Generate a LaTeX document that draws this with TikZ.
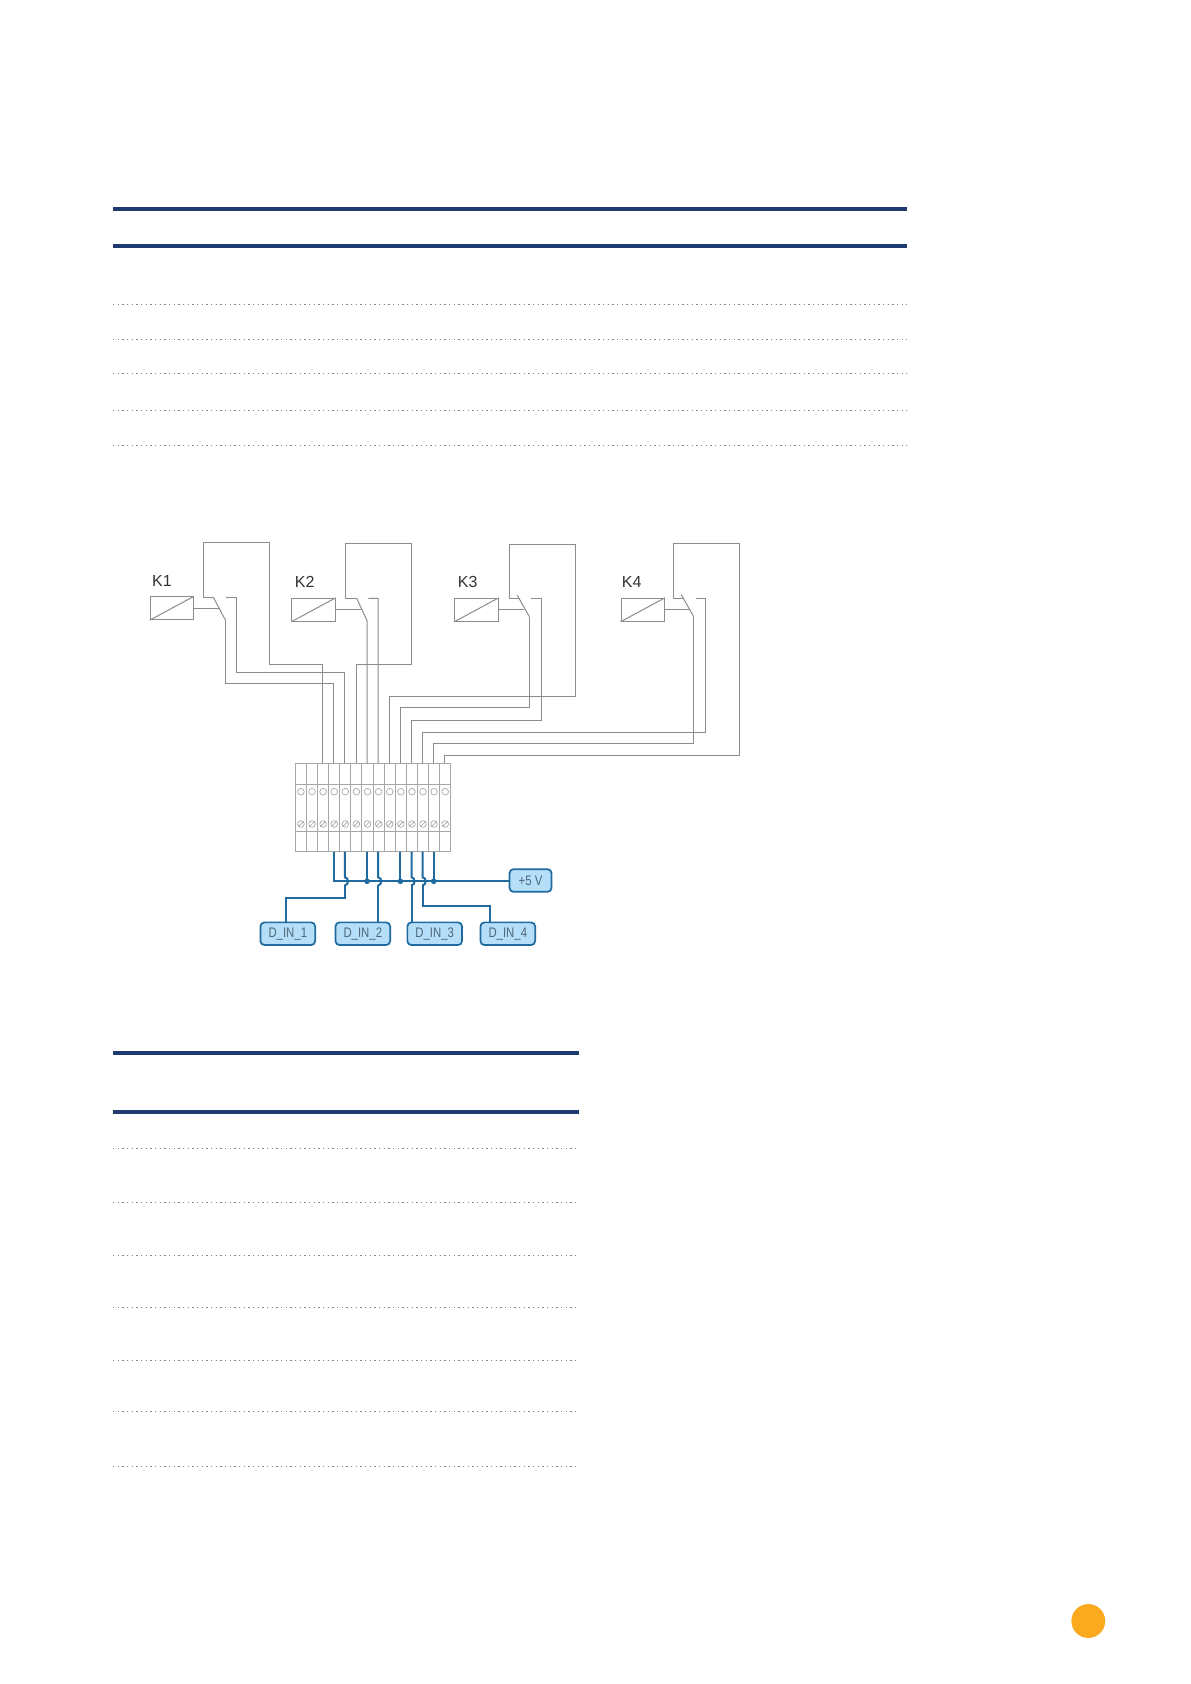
\documentclass[tikz,border=0pt]{standalone}
\usepackage{fontspec}
\setmainfont{Liberation Sans}
\definecolor{ruleblue}{HTML}{1F3A6E}
\definecolor{dotgray}{HTML}{858585}
\definecolor{relgray}{HTML}{8C8C8C}
\definecolor{sigblue}{HTML}{1F6A9E}
\definecolor{boxblue}{HTML}{B5DFF8}
\definecolor{labelgray}{HTML}{4E6678}
\definecolor{pageorange}{HTML}{FBA91F}
\usetikzlibrary{positioning}
\newcommand{\siglabel}[1]{\scalebox{0.82}[1]{#1}}
\tikzset{
  rulethick/.style={ruleblue, line width=3pt},
  ruledots/.style={dotgray, line width=1pt, dash pattern=on 1pt off 2.5pt},
  relwire/.style={relgray, line width=0.75pt},
  coil/.style={draw=relgray, line width=0.75pt, minimum width=32.5pt, minimum height=17.2pt, inner sep=0pt},
  relname/.style={font=\fontsize{12}{12}\selectfont, text=black!80, inner sep=0pt},
  termline/.style={gray!70, line width=0.7pt},
  screw/.style={circle, draw=gray!70, line width=0.5pt, minimum size=5pt, inner sep=0pt},
  sigwire/.style={sigblue, line width=1.5pt},
  sigbox/.style={draw=sigblue, fill=boxblue, line width=1.3pt, rounded corners=3pt, minimum width=41pt,
    minimum height=17pt, inner sep=0pt, text=labelgray, font=\fontsize{10.4}{10.4}\selectfont},
}
\begin{document}
\begin{tikzpicture}[x=0.75pt, y=-0.75pt]
  \useasboundingbox (0,0) rectangle (1191,1684);
  \fill[white] (0,0) rectangle (1191,1684);
  % Upper table rules
  \draw[rulethick] (113,209) -- (907,209);
  \draw[rulethick] (113,246) -- (907,246);
  \foreach \y in {304.7,339.3,373.7,410.7,445.3}
    \draw[ruledots] (113,\y) -- (907,\y);
  % Lower table rules
  \draw[rulethick] (113,1053) -- (579,1053);
  \draw[rulethick] (113,1112) -- (579,1112);
  \foreach \y in {1148.7,1202.3,1255.3,1307.7,1360.7,1411.3,1466.3}
    \draw[ruledots] (113,\y) -- (579,\y);
  % Page marker
  \fill[pageorange] (1088.3,1621) circle (12.7pt);

  % Terminal block
  \foreach \i in {0,...,14}
    \draw[termline] ({295.3+11.1*\i},763.3) -- ({295.3+11.1*\i},851);
  \draw[termline] (295.3,763.3) -- (450.7,763.3);
  \draw[termline] (295.3,784.7) -- (450.7,784.7);
  \draw[termline] (295.3,831) -- (450.7,831);
  \draw[termline] (295.3,851) -- (450.7,851);
  \foreach \i in {1,...,14} {
    \coordinate (top\i) at ({300.5+11.1*(\i-1)},763.3);
    \coordinate (bot\i) at ({300.5+11.1*(\i-1)},851.5);
    \node[screw] (hole\i) at ({300.9+11.1*(\i-1)},791.7) {};
    \node[screw] (clamp\i) at ({300.9+11.1*(\i-1)},824) {};
    \draw[gray!70, line width=0.5pt] (clamp\i.south west) -- (clamp\i.north east);
  }

  % Relay K1
  \node[coil] (k1) at (171.7,608.3) {};
  \draw[relwire] (k1.south west) -- (k1.north east);
  \node[relname] (k1name) at (162,581) {K1};
  \coordinate (k1pole) at (213.3,597.3);
  \coordinate (k1arm) at (225,619.3);
  \coordinate (k1mid) at (220,608.3);
  \coordinate (k1nc) at (226,597.3);
  \draw[relwire] (k1.east) -- (k1mid);
  \draw[relwire] (k1pole) -- (k1arm);
  \draw[relwire] (k1pole) -- (203.3,597.3) -- (203.3,542.7) -- (269.3,542.7) -- (269.3,664) -| (top3);
  \draw[relwire] (k1arm) -- (225,683.3) -| (top4);
  \draw[relwire] (k1nc) -- (236.7,597.3) -- (236.7,672.7) -| (top5);

  % Relay K2
  \node[coil] (k2) at (313.5,609.8) {};
  \draw[relwire] (k2.south west) -- (k2.north east);
  \node[relname] (k2name) at (304.7,582) {K2};
  \coordinate (k2pole) at (356.7,598.3);
  \coordinate (k2arm) at (367.1,620.7);
  \coordinate (k2mid) at (361.7,609.8);
  \coordinate (k2nc) at (368.3,598.3);
  \draw[relwire] (k2.east) -- (k2mid);
  \draw[relwire] (k2pole) -- (k2arm);
  \draw[relwire] (k2pole) -- (345.3,598.3) -- (345.3,543.7) -- (411.7,543.7) -- (411.7,664.3) -| (top6);
  \draw[relwire] (k2arm) -- (top7);
  \draw[relwire] (k2nc) -- (378.2,598.3) -- (top8);

  % Relay K3
  \node[coil] (k3) at (476.5,609.8) {};
  \draw[relwire] (k3.south west) -- (k3.north east);
  \node[relname] (k3name) at (467.7,582) {K3};
  \coordinate (k3pole) at (517.3,595.3);
  \coordinate (k3arm) at (529.3,616.7);
  \coordinate (k3mid) at (524,609.8);
  \coordinate (k3nc) at (530.7,598.3);
  \draw[relwire] (k3.east) -- (k3mid);
  \draw[relwire] (k3pole) -- (k3arm);
  \draw[relwire] (518.5,598.3) -- (509.3,598.3) -- (509.3,544.7) -- (575.7,544.7) -- (575.7,696.7) -| (top9);
  \draw[relwire] (k3arm) -- (529.3,707.7) -| (top10);
  \draw[relwire] (k3nc) -- (541.3,598.3) -- (541.3,720.3) -| (top11);

  % Relay K4
  \node[coil] (k4) at (642.7,609.8) {};
  \draw[relwire] (k4.south west) -- (k4.north east);
  \node[relname] (k4name) at (631.7,582) {K4};
  \coordinate (k4pole) at (681.3,594.7);
  \coordinate (k4arm) at (693.3,616);
  \coordinate (k4mid) at (689,609.8);
  \coordinate (k4nc) at (696.3,598.3);
  \draw[relwire] (k4.east) -- (k4mid);
  \draw[relwire] (k4pole) -- (k4arm);
  \draw[relwire] (683,598.3) -- (673.7,598.3) -- (673.7,543.7) -- (739.7,543.7) -- (739.7,755.7) -| (top14);
  \draw[relwire] (k4arm) -- (693.3,743.3) -| (top13);
  \draw[relwire] (k4nc) -- (705.3,598.3) -- (705.3,732.7) -| (top12);

  % Signal boxes
  \node[sigbox] (din1) at (287.8,933.7) {\siglabel{D\_IN\_1}};
  \node[sigbox] (din2) at (362.8,933.7) {\siglabel{D\_IN\_2}};
  \node[sigbox] (din3) at (434.7,933.7) {\siglabel{D\_IN\_3}};
  \node[sigbox] (din4) at (507.8,933.7) {\siglabel{D\_IN\_4}};
  \node[sigbox, minimum width=31.5pt] (plus5) at (530.5,880.5) {\siglabel{+5 V}};

  % Bus with hops and joints
  \coordinate (bus) at (bot4 |- 0,881.3);
  \draw[sigwire] (bot4) -- (bus) -- (bus -| plus5.west);
  \foreach \i in {7,10,13} {
    \coordinate (joint\i) at (bot\i |- bus);
    \draw[sigwire] (bot\i) -- (joint\i);
    \fill[sigblue] (joint\i) circle (2.1pt);
  }
  \foreach \i in {5,8,11,12} {
    \coordinate (hop\i) at (bot\i |- bus);
    \draw[sigwire] (bot\i) -- ([yshift=3pt]hop\i) to[out=0, in=0, looseness=1.3] ([yshift=-3pt]hop\i);
  }
  \draw[sigwire] ([yshift=-3pt]hop5) -- (bot5 |- 0,897.7) -| ([xshift=-1.4pt]din1.north);
  \draw[sigwire] ([yshift=-3pt]hop8) -- (bot8 |- din2.north);
  \draw[sigwire] ([yshift=-3pt]hop11) -- (bot11 |- din3.north);
  \draw[sigwire] ([yshift=-3pt]hop12) -- (bot12 |- 0,905.7) -| ([xshift=-13.4pt]din4.north);
\end{tikzpicture}
\end{document}
